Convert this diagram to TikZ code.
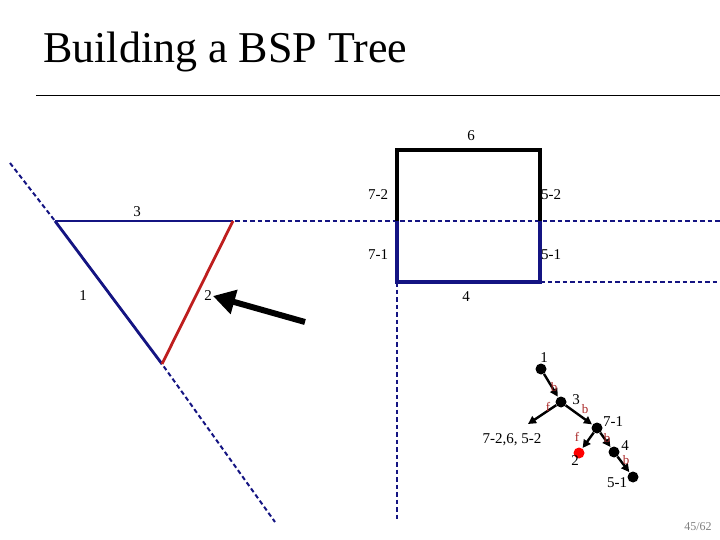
\documentclass[tikz,border=0pt]{standalone}
\usepackage{fontspec}
\setmainfont{Liberation Serif}
\usetikzlibrary{arrows.meta,positioning,calc}

\definecolor{splitblue}{RGB}{20,20,130}
\definecolor{edgered}{RGB}{190,30,30}
\definecolor{sidered}{RGB}{170,40,40}

\begin{document}
\begin{tikzpicture}[
  x=1pt, y=-1pt,
  font=\fontsize{15}{17}\selectfont,
  lbl/.style={inner sep=1pt},
  sidelbl/.style={inner sep=0.5pt, font=\fontsize{13}{14}\selectfont, text=sidered},
  split/.style={draw=splitblue, line width=2pt, dash pattern=on 4.5pt off 3pt},
  wall/.style={draw=splitblue, line width=2.8pt},
  dot/.style={circle, fill=black, inner sep=0pt, minimum size=11pt},
  arr/.style={-{Triangle[length=8pt,width=8pt]}, line width=2.4pt, shorten >=0.5pt}
]
\useasboundingbox (0,0) rectangle (720,540);

% title
\node[anchor=west, inner sep=0pt, font=\fontsize{44}{48}\selectfont] (title) at (43,52) {Building a BSP Tree};
\draw[line width=1pt] (36,96) -- (720,96);

% triangle
\coordinate (a) at (55,221);
\coordinate (b) at (233,221);
\coordinate (c) at (162,364);

% square
\coordinate (sq1) at (397,150);
\coordinate (sq2) at (540,150);
\coordinate (sq3) at (540,282);
\coordinate (sq4) at (397,282);
\coordinate (mid1) at (397,221);
\coordinate (mid2) at (540,221);

% splitting lines
\draw[split] (10,163) -- (a) -- (c) -- (275,522);
\draw[split] (a) -- (720,221);
\draw[split] (sq3) -- (720,282);
\draw[split] (sq4) -- (397,522);

% polygons
\draw[wall] (a) -- (b);
\draw[wall] (a) -- (c);
\draw[draw=edgered, line width=2.8pt] (b) -- (c);
\draw[line width=3.5pt, line join=miter] (mid1) -- (sq1) -- (sq2) -- (mid2);
\draw[wall, line width=3.5pt, line join=miter] (mid1) -- (sq4) -- (sq3) -- (mid2);

\node[lbl] (l3) at (137,212) {3};
\node[lbl] (l1) at (83,296) {1};
\node[lbl] (l2) at (208,296) {2};
\node[lbl] (l6) at (471,136) {6};
\node[lbl] (l72) at (378,195) {7-2};
\node[lbl] (l52) at (551,195) {5-2};
\node[lbl] (l71) at (378,255) {7-1};
\node[lbl] (l51) at (551,255) {5-1};
\node[lbl] (l4) at (466,297) {4};

% viewer arrow
\coordinate (eye) at (305,322);
\draw[line width=6pt, -{Triangle[length=22pt,width=24pt]}] (eye) -- (l2.east);

% tree
\node[dot] (t1) at (541,369) {};
\node[dot] (t3) at (561,402) {};
\node[dot] (t71) at (597,428) {};
\node[dot, fill=red] (t2) at (579,453) {};
\node[dot] (t4) at (614,452) {};
\node[dot] (t51) at (633,477) {};
\coordinate (tf) at (528,424);

\node[lbl] (n1) at (544,358) {1};
\node[lbl] (n3) at (576,400) {3};
\node[lbl] (n71) at (613,422) {7-1};
\node[lbl] (n2) at (575,461) {2};
\node[lbl] (n4) at (625,446) {4};
\node[lbl] (n51) at (617,483) {5-1};
\node[lbl] (nf) at (512,440) {7-2,6, 5-2};

\foreach \a/\b in {t1/t3, t3/t71, t71/t2, t71/t4, t4/t51}
  \draw[arr] (\a) -- (\b);
\draw[arr, shorten >=0pt] (t3) -- (tf);

\node[sidelbl] (s1) at (554,387) {b};
\node[sidelbl] (s2) at (548,407) {f};
\node[sidelbl] (s3) at (585,409) {b};
\node[sidelbl] (s4) at (577,437) {f};
\node[sidelbl] (s5) at (607,438) {b};
\node[sidelbl] (s6) at (626,460) {b};

\node[lbl, text=gray, font=\fontsize{12}{13}\selectfont] (page) at (698,527) {45/62};
\end{tikzpicture}
\end{document}
